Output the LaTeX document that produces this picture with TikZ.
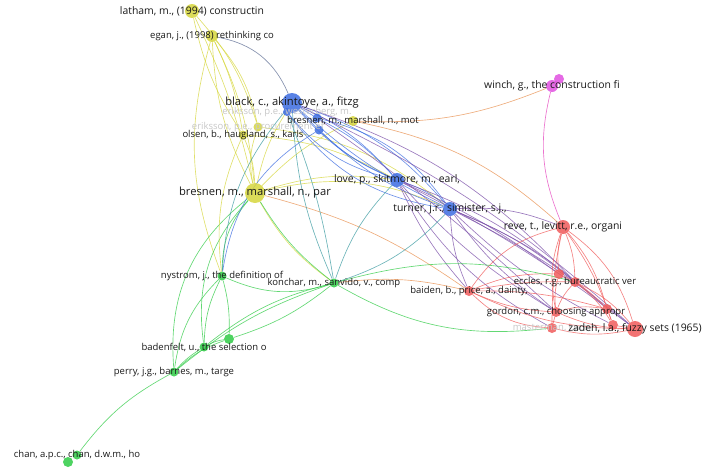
\documentclass[tikz,border=0pt]{standalone}
\usepackage{fontspec}
\setmainfont{Open Sans}
\pgfdeclarelayer{bg}
\pgfsetlayers{bg,main}
\definecolor{cy}{HTML}{D6D63C}
\definecolor{cb}{HTML}{3C6CE0}
\definecolor{cr}{HTML}{F05A5A}
\definecolor{cg}{HTML}{2FCB45}
\definecolor{cm}{HTML}{E050E0}
\definecolor{cteal}{HTML}{3A9AA0}
\definecolor{cpur}{HTML}{7A4EA8}
\definecolor{cor}{HTML}{E89050}
\definecolor{colive}{HTML}{5A6A90}
\tikzset{
  dot/.style={circle, inner sep=0pt, minimum size=#1, fill opacity=0.85},
  ydot/.style={dot=#1, fill=cy},
  bdot/.style={dot=#1, fill=cb},
  rdot/.style={dot=#1, fill=cr},
  gdot/.style={dot=#1, fill=cg},
  mdot/.style={dot=#1, fill=cm},
  lab/.style={inner sep=0pt, text=black!90, font=\fontsize{9.5}{10}\selectfont},
  mlab/.style={lab, font=\fontsize{10.4}{11}\selectfont},
  blab/.style={lab, font=\fontsize{11.2}{12}\selectfont},
  faint/.style={lab, text=black!22},
  edge/.style={line width=0.65pt, draw opacity=0.75},
  ey/.style={edge, draw=cy},
  eb/.style={edge, draw=cb},
  er/.style={edge, draw=cr},
  eg/.style={edge, draw=cg},
  em/.style={edge, draw=cm!85!red},
  et/.style={edge, draw=cteal},
  ep/.style={edge, draw=cpur},
  eo/.style={edge, draw=cor},
  eol/.style={edge, draw=colive},
}
\begin{document}
\begin{tikzpicture}[x=1pt, y=-1pt]
\useasboundingbox (0,0) rectangle (707,474);
% yellow
\node[ydot=14] (latham) at (192,11) {};
\node[ydot=12] (egan) at (212,36) {};
\node[ydot=9] (eriks) at (258,127) {};
\node[ydot=9] (olsen) at (243,135) {};
\node[ydot=20] (bpar) at (255,193) {};
\node[ydot=10] (bmot) at (353,121) {};
% blue
\node[bdot=20] (black) at (292,103) {};
\node[bdot=8] (b2) at (287,112) {};
\node[bdot=9] (b3) at (317,118) {};
\node[bdot=9] (b4) at (319,130) {};
\node[bdot=14] (love) at (397,180) {};
\node[bdot=14] (turner) at (450,209) {};
% magenta
\node[mdot=12] (winch) at (552,86) {};
\node[mdot=10] (winch2) at (559,79) {};
% red
\node[rdot=14] (reve) at (563,227) {};
\node[rdot=10] (r1) at (559,274) {};
\node[rdot=10] (eccles) at (575,282) {};
\node[rdot=10] (baiden) at (469,291) {};
\node[rdot=10] (gordon) at (556,312) {};
\node[rdot=10] (r2) at (607,309) {};
\node[rdot=10] (r3) at (613,325) {};
\node[rdot=16] (zadeh) at (635,329) {};
\node[rdot=10] (master) at (552,328) {};
% green
\node[gdot=9] (nystrom) at (222,276) {};
\node[gdot=9] (konchar) at (334,283) {};
\node[gdot=10] (g1) at (229,339) {};
\node[gdot=9] (baden) at (204,347) {};
\node[gdot=9] (perry) at (174,372) {};
\node[gdot=9] (chan) at (77,455) {};
\node[gdot=10] (chan2) at (68,462) {};

\begin{pgfonlayer}{bg}
% yellow
\draw[ey] (latham) to[bend right=10] (olsen);
\draw[ey] (latham) to[bend left=6] (bpar);
\draw[ey] (latham) to[bend left=12] (eriks);
\draw[eol] (egan) to[bend left=28] (black);
\draw[ey] (egan) to[bend left=8] (olsen);
\draw[ey] (egan) to[bend left=14] (eriks);
\draw[ey] (egan) to[bend right=12] (bpar);
\draw[ey] (egan) to[bend left=10] (bpar);
\draw[ey] (egan) to[bend right=18] (nystrom);
\draw[ey] (bpar) to[bend left=15] (eriks);
\draw[ey] (bpar) to[bend right=10] (olsen);
\draw[ey] (bpar) to[bend left=10] (black);
\draw[ey] (bpar) to[bend left=12] (love);
\draw[ey] (bpar) to[bend left=18] (turner);
\draw[ey] (bpar) to[bend left=10] (bmot);
\draw[ey] (bpar) to[bend right=12] (konchar);
\draw[eo] (bpar) to[bend left=10] (baiden);
\draw[eg] (bpar) to[bend right=20] (nystrom);
\draw[eg] (bpar) to[bend right=25] (baden);
\draw[eg] (bpar) to[bend right=28] (perry);
\draw[ey] (olsen) to[bend left=12] (love);
\draw[ey] (eriks) to[bend left=16] (turner);
\draw[ey] (olsen) to[bend right=15] (nystrom);
\draw[eo] (bmot) to[bend right=12] (winch);
\draw[eo] (bmot) to[bend left=15] (reve);
% blue
\draw[eb] (black) to[bend left=12] (love);
\draw[eb] (black) to[bend right=12] (love);
\draw[eb] (black) to[bend left=15] (turner);
\draw[eb] (black) to[bend right=8] (turner);
\draw[eb] (black) to (b3);
\draw[eb] (black) to (b4);
\draw[eb] (b3) to[bend left=10] (love);
\draw[eb] (b4) to[bend right=10] (love);
\draw[eb] (b3) to[bend left=20] (turner);
\draw[eb] (b4) to[bend right=12] (turner);
\draw[eb] (b2) to[bend right=18] (love);
\draw[eb] (b2) to[bend right=22] (turner);
\draw[et] (black) to[bend right=10] (konchar);
\draw[et] (black) to[bend right=18] (nystrom);
\draw[et] (b2) to[bend left=6] (konchar);
\draw[eb] (b4) to[bend right=25] (nystrom);
\draw[ep] (black) to[bend left=14] (eccles);
\draw[ep] (black) to[bend left=8] (zadeh);
\draw[ep] (b3) to[bend left=4] (gordon);
\draw[eb] (love) to[bend left=10] (turner);
\draw[et] (love) to[bend right=12] (konchar);
\draw[ep] (love) to[bend right=8] (baiden);
\draw[ep] (love) to[bend left=10] (eccles);
\draw[ep] (love) to[bend right=8] (gordon);
\draw[ep] (love) to[bend left=5] (zadeh);
\draw[ep] (love) to[bend left=6] (r1);
\draw[ep] (love) to[bend right=14] (master);
\draw[et] (turner) to[bend left=14] (konchar);
\draw[ep] (turner) to[bend left=12] (reve);
\draw[ep] (turner) to[bend left=8] (eccles);
\draw[ep] (turner) to[bend right=10] (gordon);
\draw[ep] (turner) to[bend left=6] (zadeh);
\draw[ep] (turner) to[bend left=10] (r2);
\draw[ep] (turner) to[bend right=8] (r3);
\draw[ep] (turner) to[bend right=10] (baiden);
% magenta
\draw[em] (winch) to[bend right=18] (reve);
\draw[em] (winch2) to (winch);
% red
\draw[er] (reve) to[bend right=10] (r1);
\draw[er] (reve) to[bend left=10] (eccles);
\draw[er] (reve) to[bend right=15] (gordon);
\draw[er] (reve) to[bend left=18] (zadeh);
\draw[er] (reve) to[bend left=12] (r2);
\draw[er] (reve) to[bend left=8] (r3);
\draw[er] (reve) to[bend right=20] (baiden);
\draw[er] (reve) to[bend right=6] (master);
\draw[er] (baiden) to[bend left=12] (r1);
\draw[er] (baiden) to[bend left=6] (eccles);
\draw[er] (baiden) to[bend right=10] (gordon);
\draw[er] (baiden) to[bend right=12] (zadeh);
\draw[er] (baiden) to[bend left=8] (r2);
\draw[er] (baiden) to[bend right=20] (master);
\draw[eo] (baiden) to[bend right=10] (konchar);
\draw[er] (r1) to[bend right=10] (gordon);
\draw[er] (r1) to[bend left=10] (r2);
\draw[er] (eccles) to[bend right=10] (gordon);
\draw[er] (eccles) to[bend left=12] (zadeh);
\draw[er] (eccles) to[bend left=10] (r3);
\draw[er] (gordon) to[bend left=12] (r2);
\draw[er] (gordon) to[bend right=10] (zadeh);
\draw[er] (gordon) to (master);
\draw[er] (master) to[bend right=12] (zadeh);
\draw[er] (r2) to (r3);
\draw[er] (r3) to (zadeh);
% green
\draw[eg] (nystrom) to[bend right=20] (konchar);
\draw[eg] (nystrom) to[bend left=8] (g1);
\draw[eg] (nystrom) to[bend right=12] (baden);
\draw[eg] (nystrom) to[bend right=18] (perry);
\draw[eg] (konchar) to[bend left=10] (g1);
\draw[eg] (konchar) to[bend right=12] (baden);
\draw[eg] (konchar) to[bend right=10] (perry);
\draw[eg] (g1) to[bend right=10] (baden);
\draw[eg] (g1) to[bend right=12] (perry);
\draw[eg] (perry) to[bend right=12] (chan);
\draw[eg] (perry) to[bend left=8] (baden);
\draw[eg] (konchar) to[bend left=15] (eccles);
\draw[eg] (konchar) to[bend right=18] (master);
\draw[eg] (konchar) to[bend left=10] (bpar);
\end{pgfonlayer}

% labels
\node[mlab] (l-latham) at (latham) {latham, m., (1994) constructin};
\node[lab] (l-egan) at (egan) {egan, j., (1998) rethinking co};
\node[faint] (l-b2) at (b2) {eriksson, p.e., westerberg, m.};
\node[faint] (l-eriks) at (eriks) {eriksson, p.e., procurement ef};
\node[lab] (l-olsen) at (olsen) {olsen, b., haugland, s., karls};
\node[blab] (l-black) at (black) {black, c., akintoye, a., fitzg};
\node[lab] (l-bmot) at (bmot) {bresnen, m., marshall, n., mot};
\node[blab] (l-bpar) at (bpar) {bresnen, m., marshall, n., par};
\node[mlab] (l-love) at (love) {love, p., skitmore, m., earl,};
\node[mlab] (l-turner) at (turner) {turner, j.r., simister, s.j.,};
\node[mlab] (l-winch) at (winch) {winch, g., the construction fi};
\node[mlab] (l-reve) at (reve) {reve, t., levitt, r.e., organi};
\node[lab] (l-eccles) at (eccles) {eccles, r.g., bureaucratic ver};
\node[lab] (l-baiden) at (baiden) {baiden, b., price, a., dainty,};
\node[lab] (l-gordon) at (gordon) {gordon, c.m., choosing appropr};
\node[faint] (l-master) at (master) {masterman, j.w.e.};
\node[mlab] (l-zadeh) at (zadeh) {zadeh, l.a., fuzzy sets (1965)};
\node[lab] (l-nystrom) at (nystrom) {nystrom, j., the definition of};
\node[lab] (l-konchar) at (konchar) {konchar, m., sanvido, v., comp};
\node[lab] (l-baden) at (baden) {badenfelt, u., the selection o};
\node[lab] (l-perry) at (perry) {perry, j.g., barnes, m., targe};
\node[lab] (l-chan) at (chan) {chan, a.p.c., chan, d.w.m., ho};
\end{tikzpicture}
\end{document}
